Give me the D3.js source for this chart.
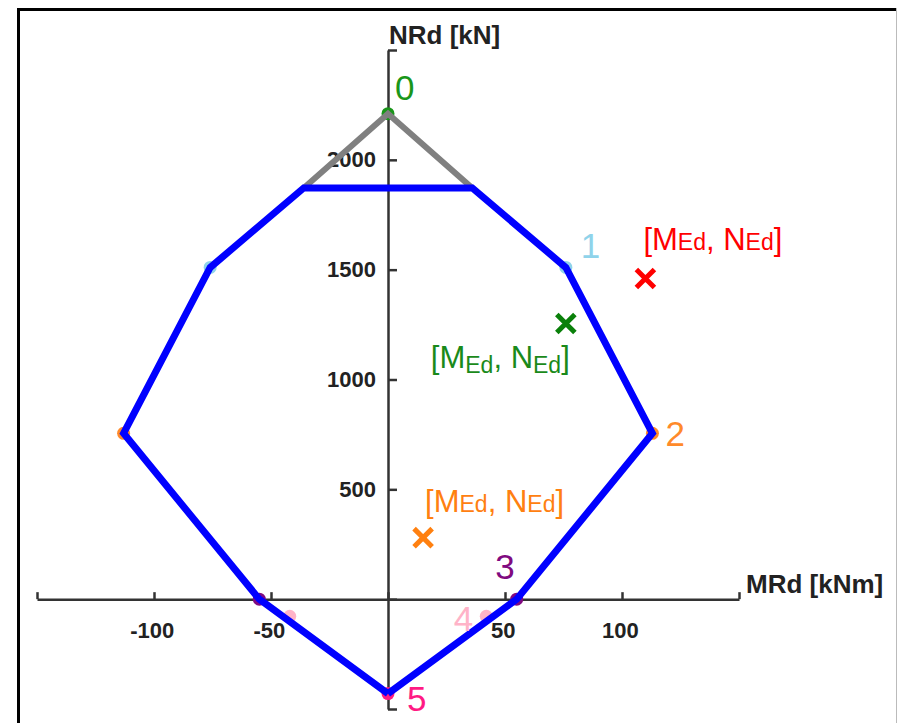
<!DOCTYPE html>
<html>
<head>
<meta charset="utf-8">
<script src="https://cdn.jsdelivr.net/npm/d3@7"></script>
<style>
  html, body { margin: 0; padding: 0; background: #fff; }
  svg { display: block; }
  .tick text { font-family: "Liberation Sans", Arial, sans-serif; font-weight: bold; font-size: 22px; fill: #222; }
</style>
</head>
<body>
<svg id="chart" width="897" height="723"></svg>
<script>
// interaction diagram data
var pointIds = ["0", "1", "2", "3", "4", "5"];
var pointM = [0, 76, 113, 55, 42, 0];
var pointN = [2210, 1510, 755, 0, -78, -430];
var pointColors = ["#1a961a", "#8fd3ea", "#ff8a2a", "#800a80", "#ffb3c8", "#ff1a84"];

// blue design envelope
var envM = [0, 55, 113, 76, 36, -36, -76, -113, -55, 0];
var envN = [-430, 0, 755, 1510, 1872, 1872, 1510, 755, 0, -430];

// grey cut-off top
var topM = [-36, 0, 36];
var topN = [1872, 2210, 1872];

// load points [MEd, NEd]
var loadM = [110, 76, 15];
var loadN = [1460, 1255, 280];
var loadColors = ["#ff0000", "#0a800a", "#ff8010"];

var xTicks = [-150, -100, -50, 0, 50, 100, 150];
var yTicks = [-500, 0, 500, 1000, 1500, 2000, 2500];

var svg = d3.select("#chart");

// frame
svg.append("line").attr("x1", 18).attr("x2", 897).attr("y1", 9.5).attr("y2", 9.5)
    .style("stroke", "#000").style("stroke-width", 3);
svg.append("line").attr("x1", 18.5).attr("x2", 18.5).attr("y1", 8).attr("y2", 723)
    .style("stroke", "#000").style("stroke-width", 3);
svg.append("line").attr("x1", 896.5).attr("x2", 896.5).attr("y1", 8).attr("y2", 723)
    .style("stroke", "#bbb").style("stroke-width", 1);

var x = d3.scaleLinear().domain([-150, 150]).range([37, 739]);
var y = d3.scaleLinear().domain([-500, 2500]).range([709, 50]);

// x axis through N = 0, ticks pointing up
var xAxis = d3.axisBottom(x)
    .tickValues(xTicks)
    .tickSizeInner(-7)
    .tickSizeOuter(0)
    .tickPadding(23)
    .tickFormat(function (d) { return (d == 0 || Math.abs(d) == 150) ? "" : d; });

var gx = svg.append("g")
    .attr("transform", "translate(0," + y(0) + ")")
    .call(xAxis);

// y axis through M = 0, ticks pointing right
var yAxis = d3.axisLeft(y)
    .tickValues(yTicks)
    .tickSizeInner(-9)
    .tickSizeOuter(0)
    .tickPadding(12)
    .tickFormat(function (d) { return (d <= 0 || d == 2500) ? "" : d; });

var gy = svg.append("g")
    .attr("transform", "translate(" + x(0) + ",0)")
    .call(yAxis);

[gx, gy].forEach(function (g) {
    g.select(".domain").style("stroke", "#333").style("stroke-width", 2.5);
    g.selectAll(".tick line").style("stroke", "#333").style("stroke-width", 2.5);
});
gx.selectAll(".tick text").attr("dx", "-0.1em");

// axis titles
svg.append("text")
    .attr("x", 389).attr("y", 44)
    .style("font-family", "Liberation Sans, Arial, sans-serif")
    .style("font-weight", "bold").style("font-size", "26px").style("fill", "#222")
    .text("NRd [kN]");

svg.append("text")
    .attr("x", 746).attr("y", 593)
    .style("font-family", "Liberation Sans, Arial, sans-serif")
    .style("font-weight", "bold").style("font-size", "26px").style("fill", "#222")
    .text("MRd [kNm]");

// point markers (both sides), under the lines
var markers = [];
pointIds.forEach(function (id, i) {
    markers.push({ m: pointM[i], n: pointN[i], c: pointColors[i] });
    if (pointM[i] != 0) markers.push({ m: -pointM[i], n: pointN[i], c: pointColors[i] });
});

svg.selectAll("circle.marker")
    .data(markers)
    .enter().append("circle")
    .attr("class", "marker")
    .attr("cx", function (d) { return x(d.m); })
    .attr("cy", function (d) { return y(d.n); })
    .attr("r", 6.5)
    .style("fill", function (d) { return d.c; });

var line = d3.line()
    .x(function (d) { return x(d[0]); })
    .y(function (d) { return y(d[1]); });

svg.append("path")
    .datum(d3.zip(topM, topN))
    .attr("d", line)
    .style("fill", "none").style("stroke", "#808080").style("stroke-width", 6);

svg.append("path")
    .datum(d3.zip(envM, envN))
    .attr("d", line)
    .style("fill", "none").style("stroke", "#0000ff").style("stroke-width", 7)
    .style("stroke-linejoin", "miter");

// point numbers
var labelOffsets = [[7, -14, "start"], [15, -9, "start"], [13, 13, "start"],
                    [-2, -20, "end"], [-13, 15, "end"], [19, 17, "start"]];

svg.selectAll("text.pid")
    .data(pointIds)
    .enter().append("text")
    .attr("class", "pid")
    .attr("x", function (d, i) { return x(pointM[i]) + labelOffsets[i][0]; })
    .attr("y", function (d, i) { return y(pointN[i]) + labelOffsets[i][1]; })
    .attr("text-anchor", function (d, i) { return labelOffsets[i][2]; })
    .style("font-family", "Liberation Sans, Arial, sans-serif")
    .style("font-size", "35px")
    .style("fill", function (d, i) { return pointColors[i]; })
    .text(function (d) { return d; });

// load crosses
var cross = d3.symbol().type(d3.symbolX).size(215);

svg.selectAll("path.load")
    .data(loadM)
    .enter().append("path")
    .attr("class", "load")
    .attr("d", cross)
    .attr("transform", function (d, i) { return "translate(" + x(loadM[i]) + "," + y(loadN[i]) + ")"; })
    .style("fill", "none")
    .style("stroke", function (d, i) { return loadColors[i]; })
    .style("stroke-width", 5);

// load labels [MEd, NEd]
var loadLabelOffsets = [[-2, -28, 0], [-135, 45, 5], [2, -26, 0]];

var loadLabel = svg.selectAll("text.loadlabel")
    .data(loadM)
    .enter().append("text")
    .attr("class", "loadlabel")
    .attr("x", function (d, i) { return x(loadM[i]) + loadLabelOffsets[i][0]; })
    .attr("y", function (d, i) { return y(loadN[i]) + loadLabelOffsets[i][1]; })
    .style("font-family", "Liberation Sans, Arial, sans-serif")
    .style("font-size", "31px")
    .style("fill", function (d, i) { return loadColors[i] == "#0a800a" ? "#1a8a1a" : loadColors[i]; });

loadLabel.each(function (d, i) {
    var t = d3.select(this);
    var sub = loadLabelOffsets[i][2];
    t.append("tspan").text("[M");
    t.append("tspan").attr("dy", sub).style("font-size", "23px").text("Ed");
    t.append("tspan").attr("dy", -sub).text(", N");
    t.append("tspan").attr("dy", sub).style("font-size", "23px").text("Ed");
    t.append("tspan").attr("dy", -sub).text("]");
});
</script>
</body>
</html>
